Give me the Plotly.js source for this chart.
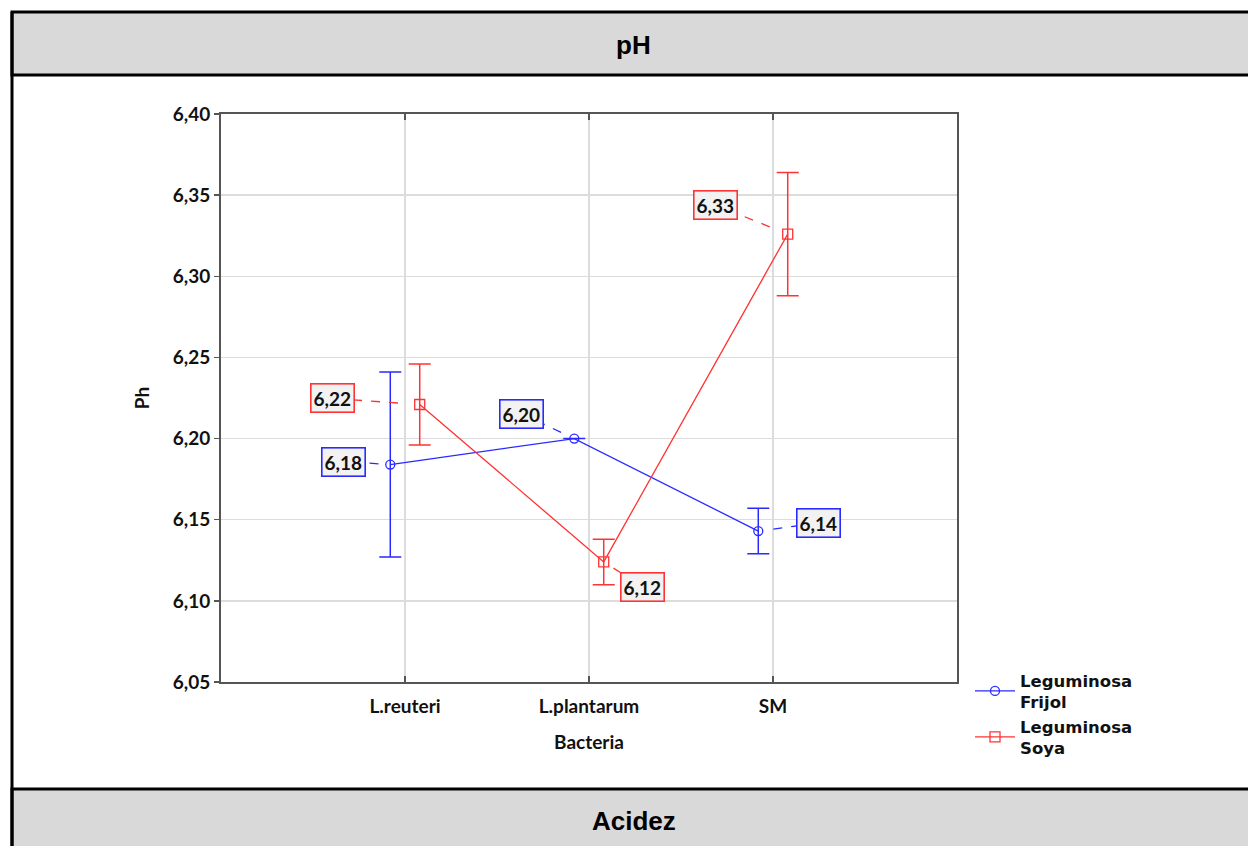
<!DOCTYPE html>
<html>
<head>
<meta charset="utf-8">
<script src="https://cdn.plot.ly/plotly-3.0.1.min.js"></script>
<style>html,body{margin:0;padding:0;background:#fff;}#chart{width:1248px;height:846px;}</style>
</head>
<body>
<div id="chart"></div>
<script>
// ---- data ----
const categories = ["L.reuteri", "L.plantarum", "SM"];
const frijolMeans = [6.184, 6.200, 6.143];
const frijolErr   = [0.057, 0.0, 0.014];
const soyaMeans   = [6.221, 6.124, 6.326];
const soyaErr     = [0.025, 0.014, 0.038];
const frijolLabels = ["6,18", "6,20", "6,14"];
const soyaLabels   = ["6,22", "6,12", "6,33"];
const seriesNames = ["Leguminosa<br>Frijol", "Leguminosa<br>Soya"];
const headerTop = "pH";
const headerBottom = "Acidez";
const yTitle = "Ph";
const xTitle = "Bacteria";

// ---- layout geometry ----
const W = 1248, H = 846;
const L = 221, R = 957, T = 114, B = 682;
const px = x => (x - L) / (R - L);
const py = y => (B - y) / (B - T);
const BLUE = "#2a2aff", RED = "#ff3333";
const tickFont = {family: "Lato, 'Open Sans', sans-serif", size: 19, color: "#111", weight: 700};
const yTickFont = {family: "Lato, 'Open Sans', sans-serif", size: 19, color: "#111", weight: 700};

const xF = categories.map((c, i) => i - 0.08);
const xS = categories.map((c, i) => i + 0.08);

const traces = [
  {
    x: xF, y: frijolMeans, name: seriesNames[0], type: "scatter", mode: "lines+markers",
    line: {color: BLUE, width: 1.3},
    marker: {symbol: "circle-open", size: 9, color: BLUE, line: {width: 1.3}},
    error_y: {type: "data", array: frijolErr, visible: true, color: BLUE, thickness: 1.5, width: 11}
  },
  {
    x: xS, y: soyaMeans, name: seriesNames[1], type: "scatter", mode: "lines+markers",
    line: {color: RED, width: 1.3},
    marker: {symbol: "square-open", size: 10, color: RED, line: {width: 1.3}},
    error_y: {type: "data", array: soyaErr, visible: true, color: RED, thickness: 1.5, width: 11}
  }
];

// label offsets (screen pixels: dx right, dy up)
const fOff = [[-47, 3], [-53, 25], [60, 8]];
const sOff = [[-87, 6], [39, -25], [-72, 29]];

const shapes = [];
const annotations = [];
function addLabel(x, y, text, off, color) {
  shapes.push({
    type: "line", layer: "above",
    xref: "x", yref: "y", xsizemode: "pixel", ysizemode: "pixel",
    xanchor: x, yanchor: y,
    x0: off[0] * 0.25, y0: off[1] * 0.25, x1: off[0], y1: off[1],
    line: {color: color, width: 1.3, dash: "dash"}
  });
  annotations.push({
    x: x, y: y, xref: "x", yref: "y", showarrow: false,
    xanchor: "center", yanchor: "middle",
    xshift: off[0], yshift: off[1],
    text: text, font: {family: "Lato, 'Open Sans', sans-serif", size: 19, color: "#111", weight: 700},
    bgcolor: "#f2f2f2", bordercolor: color, borderwidth: 1.6, borderpad: 2
  });
}
categories.forEach((c, i) => {
  addLabel(xF[i], frijolMeans[i], frijolLabels[i], fOff[i], BLUE);
  addLabel(xS[i], soyaMeans[i], soyaLabels[i], sOff[i], RED);
});

// frame: header and footer bands
shapes.push({type: "rect", xref: "paper", yref: "paper", layer: "below",
  x0: px(12), x1: px(1260), y0: py(12), y1: py(75),
  fillcolor: "#d9d9d9", line: {color: "#000", width: 3}});
shapes.push({type: "rect", xref: "paper", yref: "paper", layer: "below",
  x0: px(12), x1: px(1260), y0: py(789), y1: py(860),
  fillcolor: "#d9d9d9", line: {color: "#000", width: 3}});
shapes.push({type: "line", xref: "paper", yref: "paper", layer: "below",
  x0: px(12), x1: px(12), y0: py(12), y1: py(846),
  line: {color: "#000", width: 3}});

annotations.push({xref: "paper", yref: "paper", x: px(633), y: py(45), showarrow: false,
  xanchor: "center", yanchor: "middle",
  text: headerTop, font: {family: "'Liberation Sans', Arial, sans-serif", size: 26, color: "#000", weight: 700}});
annotations.push({xref: "paper", yref: "paper", x: px(634), y: py(821), showarrow: false,
  xanchor: "center", yanchor: "middle",
  text: headerBottom, font: {family: "'Liberation Sans', Arial, sans-serif", size: 26, color: "#000", weight: 700}});

const layout = {
  width: W, height: H,
  margin: {l: L, r: W - R, t: T, b: H - B, pad: 0},
  paper_bgcolor: "#fff", plot_bgcolor: "#fff",
  separators: ",.",
  showlegend: true,
  legend: {x: px(970), y: py(663), xanchor: "left", yanchor: "top",
    font: {family: "'DejaVu Sans', sans-serif", size: 16.5, color: "#111", weight: 700},
    bgcolor: "rgba(0,0,0,0)", tracegroupgap: 4, itemwidth: 40},
  xaxis: {
    range: [-1, 3], tickvals: categories.map((c, i) => i), ticktext: categories,
    showgrid: true, gridcolor: "#dcdcdc", gridwidth: 1.5, zeroline: false,
    showline: true, linecolor: "#555", linewidth: 2, mirror: "ticks",
    ticks: "inside", ticklen: 6, tickcolor: "#555", tickwidth: 1.5,
    tickfont: tickFont, ticklabelstandoff: 6,
    title: {text: xTitle, font: tickFont, standoff: 20}
  },
  yaxis: {
    range: [6.05, 6.40], dtick: 0.05, tick0: 6.05, tickformat: ".2f",
    showgrid: true, gridcolor: "#dcdcdc", gridwidth: 1.5, zeroline: false,
    showline: true, linecolor: "#555", linewidth: 2, mirror: true,
    ticks: "outside", ticklen: 5, tickcolor: "#555", tickwidth: 1.5,
    tickfont: yTickFont,
    title: {text: yTitle, font: tickFont, standoff: 18}
  },
  shapes: shapes,
  annotations: annotations
};

Plotly.newPlot("chart", traces, layout, {displayModeBar: false, staticPlot: true});
</script>
</body>
</html>
